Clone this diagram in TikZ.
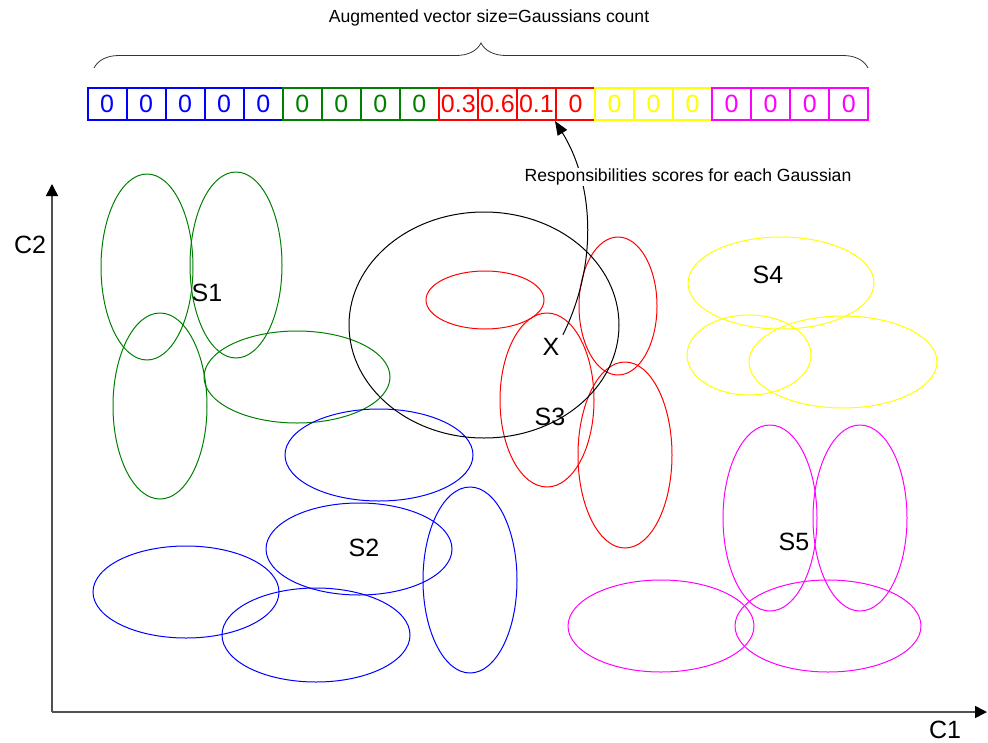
\documentclass[tikz,border=0pt]{standalone}
\usepackage{fontspec}
\setmainfont{Liberation Sans}
\usetikzlibrary{decorations.pathreplacing,arrows.meta,positioning}
\definecolor{gblue}{RGB}{0,0,255}
\definecolor{ggreen}{RGB}{0,128,0}
\definecolor{gred}{RGB}{255,0,0}
\definecolor{gyellow}{RGB}{255,255,0}
\definecolor{gmagenta}{RGB}{255,0,255}
\definecolor{axisgray}{RGB}{80,80,80}

\begin{document}
\begin{tikzpicture}[x=1pt, y=-1pt,
        cell/.style={draw, line width=2pt, minimum width=39pt, minimum height=32pt, inner sep=0pt, font=\fontsize{25}{27}\selectfont},
        gauss/.style={line width=1pt},
        lab/.style={font=\fontsize{25}{28}\selectfont},
        note/.style={font=\fontsize{17.6}{20}\selectfont},
        axis/.style={axisgray, line width=1.5pt, -{Triangle[length=12pt, width=12pt, black]}}]
        \useasboundingbox (0,0) rectangle (988,742);
        % Augmented vector
        \node[cell, gblue]    (b1)  at (107.0,104) {0};
        \node[cell, gblue]    (b2)  at (146.0,104) {0};
        \node[cell, gblue]    (b3)  at (185.1,104) {0};
        \node[cell, gblue]    (b4)  at (224.1,104) {0};
        \node[cell, gblue]    (b5)  at (263.2,104) {0};
        \node[cell, ggreen]   (b6)  at (302.2,104) {0};
        \node[cell, ggreen]   (b7)  at (341.2,104) {0};
        \node[cell, ggreen]   (b8)  at (380.3,104) {0};
        \node[cell, ggreen]   (b9)  at (419.3,104) {0};
        \node[cell, gred]     (b10) at (458.3,104) {0.3};
        \node[cell, gred]     (b11) at (497.4,104) {0.6};
        \node[cell, gred]     (b12) at (536.4,104) {0.1};
        \node[cell, gred]     (b13) at (575.5,104) {0};
        \node[cell, gyellow]  (b14) at (614.5,104) {0};
        \node[cell, gyellow]  (b15) at (653.5,104) {0};
        \node[cell, gyellow]  (b16) at (692.6,104) {0};
        \node[cell, gmagenta] (b17) at (731.6,104) {0};
        \node[cell, gmagenta] (b18) at (770.6,104) {0};
        \node[cell, gmagenta] (b19) at (809.7,104) {0};
        \node[cell, gmagenta] (b20) at (848.7,104) {0};
        % Brace and title
        \coordinate (brl) at (94,68);
        \coordinate (brr) at (868,68);
        \draw[decorate, decoration={brace, amplitude=25pt}, line width=0.8pt, black!80] (brl) -- (brr);
        \node[note] (title) at (489,18) {Augmented vector size=Gaussians count};
        % Axes
        \coordinate (o) at (52,712);
        \coordinate (xend) at (987,712);
        \coordinate (yend) at (52,184);
        \draw[axis] (o) -- (xend);
        \draw[axis] (o) -- (yend);
        \node[lab] (c1) at (945,730) {C1};
        \node[lab] (c2) at (30,245) {C2};
        % S1
        \draw[gauss, ggreen] (147,267) ellipse [x radius=46, y radius=93];
        \draw[gauss, ggreen] (236,265) ellipse [x radius=46, y radius=93];
        \draw[gauss, ggreen] (160,406) ellipse [x radius=47, y radius=93];
        \draw[gauss, ggreen] (297,377) ellipse [x radius=93, y radius=46];
        % S2
        \draw[gauss, gblue] (379,455) ellipse [x radius=94, y radius=46];
        \draw[gauss, gblue] (359,549) ellipse [x radius=93, y radius=46];
        \draw[gauss, gblue] (186,592) ellipse [x radius=93, y radius=46];
        \draw[gauss, gblue] (316,635) ellipse [x radius=94, y radius=47];
        \draw[gauss, gblue] (470,580) ellipse [x radius=47, y radius=93];
        % S3
        \draw[gauss, gred] (485,300) ellipse [x radius=59, y radius=29];
        \draw[gauss, gred] (547,400) ellipse [x radius=47, y radius=87];
        \draw[gauss, gred] (618,306) ellipse [x radius=39, y radius=69];
        \draw[gauss, gred] (625,455) ellipse [x radius=47, y radius=93];
        % S4
        \draw[gauss, gyellow] (781,283) ellipse [x radius=93, y radius=46];
        \draw[gauss, gyellow] (749,355) ellipse [x radius=62, y radius=40];
        \draw[gauss, gyellow] (843,362) ellipse [x radius=94, y radius=46];
        % S5
        \draw[gauss, gmagenta] (770,518) ellipse [x radius=47, y radius=93];
        \draw[gauss, gmagenta] (860,518) ellipse [x radius=47, y radius=93];
        \draw[gauss, gmagenta] (661,626) ellipse [x radius=93, y radius=46];
        \draw[gauss, gmagenta] (828,626) ellipse [x radius=93, y radius=46];
        % Neighbourhood of the sample
        \draw[gauss, black] (484,325) ellipse [x radius=135, y radius=113];
        % Labels
        \node[lab] (s1) at (207,293) {S1};
        \node[lab] (s2) at (364,548) {S2};
        \node[lab] (s3) at (550,417) {S3};
        \node[lab] (s4) at (768,275) {S4};
        \node[lab] (s5) at (794,542) {S5};
        \node[lab] (xpt) at (551,347) {X};
        % Responsibilities arrow
        \draw[line width=1pt, -{Triangle[length=14pt, width=11pt]}] (xpt.north east) .. controls (600,260) and (592,180) .. (b13.south west);
        \node[note, fill=white, inner sep=1pt] (resp) at (688,177) {Responsibilities scores for each Gaussian};
\end{tikzpicture}
\end{document}
